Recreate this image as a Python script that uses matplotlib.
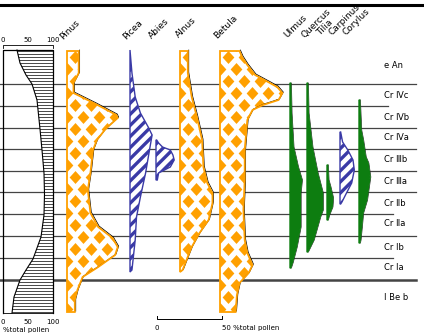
import numpy as np
import matplotlib
matplotlib.use("Agg")
import matplotlib.pyplot as plt
import matplotlib.transforms as mtransforms
from matplotlib.patches import Polygon

# depth values are read in image rows of the reference (0 = top of sheet)
ap_depth = [50, 63, 75, 84, 100, 129, 150, 173, 194, 215, 237, 259, 270, 280, 297, 313]
ap_pct = [28, 34, 46, 58, 68, 74, 78, 82, 83, 82, 76, 60, 46, 34, 22, 18]

pinus_depth = [51, 73, 83, 93, 104, 115, 118, 125, 130, 140, 150, 173, 190, 213, 227, 238, 247, 255, 267, 277, 290, 300, 312]
pinus_pct = [9, 9, 5, 5, 22, 38, 39, 33, 29, 23, 20, 18, 16, 18, 24, 35, 39, 37, 24, 12, 8, 6, 6]

picea_depth = [50, 73, 97, 113, 127, 135, 150, 173, 197, 217, 240, 270, 272]
picea_pct = [0, 1.5, 4, 8, 14, 17, 15, 12, 8, 5, 4, 1.5, 0]

abies_depth = [140, 143, 147, 150, 155, 160, 167, 171, 173, 180]
abies_pct = [0.5, 2, 5, 11, 13, 14, 11, 5, 2, 1]

alnus_depth = [51, 73, 97, 117, 140, 167, 183, 193, 203, 220, 233, 247, 260, 270, 272]
alnus_pct = [6, 6, 9, 13, 17, 18, 21, 25, 25, 22, 15, 9, 5, 2, 0]

betula_depth = [51, 57, 65, 75, 82, 87, 93, 100, 105, 110, 120, 150, 180, 210, 240, 253, 265, 273, 283, 295, 312]
betula_pct = [15, 17, 21, 27, 37, 44, 48, 45, 33, 25, 21, 19, 19, 18, 19, 21, 25, 22, 15, 13, 12]

ulmus_depth = [83, 113, 147, 167, 180, 193, 207, 227, 247, 262, 268]
ulmus_pct = [0.5, 1, 2.5, 6, 9, 8, 8, 8, 5, 2, 0.5]

quercus_depth = [83, 113, 147, 173, 193, 210, 217, 240, 252]
quercus_pct = [0.5, 1, 4, 8, 12, 12, 10, 5, 0.5]

tilia_depth = [165, 180, 187, 198, 207, 215, 220]
tilia_pct = [0.5, 1, 2.5, 4.5, 4, 1.5, 0.5]

carpinus_depth = [132, 142, 150, 160, 170, 183, 193, 202, 204]
carpinus_pct = [0.5, 2, 6, 10, 11, 9, 5, 1.5, 0.5]

corylus_depth = [100, 130, 140, 157, 163, 177, 200, 213, 227, 240, 243]
corylus_pct = [0.5, 1.5, 3, 5, 7, 8.5, 6, 3, 2, 1, 0.5]

zone_bounds = [84, 106, 128, 149, 171, 192, 214, 236, 258, 280]
zone_labels = ["e An", "Cr \u2163c", "Cr \u2163b", "Cr \u2163a", "Cr \u2162b", "Cr \u2162a",
               "Cr \u2161b", "Cr \u2161a", "Cr \u2160b", "Cr \u2160a", "I Be b"]
zone_mid = [66, 96, 117, 138, 160, 182, 203, 224, 247, 268, 297]

ORANGE = "#ffa000"
BLUE = "#3a3aa6"
GREEN = "#0d7d10"
PX = 1.3  # pixels per percent

plt.rcParams["hatch.linewidth"] = 2.4

fig = plt.figure(figsize=(4.24, 3.35), dpi=100)
ax = fig.add_axes([0, 0, 1, 1])
ax.set_xlim(0, 424)
ax.set_ylim(335, 0)
ax.axis("off")

# frame line and zone boundaries
ax.plot([0, 424], [5, 5], color="black", lw=2.2)
short = {106: 388, 214: 393, 258: 393}
for b in zone_bounds:
    ax.plot([0, short.get(b, 416)], [b, b], color="#444444",
            lw=1.8 if b == 280 else 0.9, zorder=1)
for lab, y in zip(zone_labels, zone_mid):
    ax.text(384, y, lab, fontsize=6, va="center", ha="left")


def col_trans(base, scale=PX):
    return mtransforms.Affine2D().scale(scale, 1).translate(base, 0) + ax.transData


def shape(depth, pct):
    xy = [(0, depth[0])] + list(zip(pct, depth)) + [(0, depth[-1])]
    return np.array(xy)


def diamond_fill(depth, pct, base):
    tr = col_trans(base)
    xy = shape(depth, pct)
    bg = Polygon(xy, closed=True, facecolor="white", edgecolor="none", transform=tr, zorder=2)
    ax.add_patch(bg)
    xs, ys = [], []
    for j, yy in enumerate(np.arange(45, 320, 12)):
        off = 8 if j % 2 else 0
        for xx in np.arange(base - 16 + off, base + 80, 16):
            xs.append(xx)
            ys.append(yy)
    pts, = ax.plot(xs, ys, ls="none", marker=[(0, 1.1), (1, 0), (0, -1.1), (-1, 0)],
                   ms=9.3, color=ORANGE, mec="none", zorder=3)
    pts.set_clip_path(bg)
    ax.add_patch(Polygon(xy, closed=True, facecolor="none", edgecolor=ORANGE,
                         lw=1.3, transform=tr, zorder=4))
    sh = mtransforms.offset_copy(tr, fig=fig, x=0.9, y=0.9, units="dots")
    ax.plot(pct, depth, color="black", lw=0.6, transform=sh, zorder=3.5)


def stripe_fill(depth, pct, base):
    tr = col_trans(base)
    xy = shape(depth, pct)
    ax.add_patch(Polygon(xy, closed=True, facecolor="white", edgecolor=BLUE,
                         hatch="///", lw=0, transform=tr, zorder=3))
    ax.add_patch(Polygon(xy, closed=True, facecolor="none", edgecolor=BLUE,
                         lw=1.0, transform=tr, zorder=4))


def green_fill(depth, pct, base):
    tr = col_trans(base)
    xy = shape(depth, pct)
    ax.add_patch(Polygon(xy, closed=True, facecolor=GREEN, edgecolor=GREEN,
                         lw=1.0, transform=tr, zorder=3))
    sh = mtransforms.offset_copy(tr, fig=fig, x=0.8, y=0, units="dots")
    ax.plot(pct, depth, color="#222222", lw=0.5, transform=sh, zorder=2.5)


diamond_fill(pinus_depth, pinus_pct, 67)
stripe_fill(picea_depth, picea_pct, 130)
stripe_fill(abies_depth, abies_pct, 156)
diamond_fill(alnus_depth, alnus_pct, 180)
diamond_fill(betula_depth, betula_pct, 220)
green_fill(ulmus_depth, ulmus_pct, 290)
green_fill(quercus_depth, quercus_pct, 307)
green_fill(tilia_depth, tilia_pct, 327)
stripe_fill(carpinus_depth, carpinus_pct, 340)
green_fill(corylus_depth, corylus_pct, 359)

# taxon names
names = ["Pinus", "Picea", "Abies", "Alnus", "Betula", "Ulmus", "Quercus", "Tilia", "Carpinus", "Corylus"]
name_x = [65, 128, 153, 180, 219, 289, 306, 321, 334, 347]
name_y = [41, 41, 40, 39, 40, 39, 40, 37, 37, 37]
for n, x, y in zip(names, name_x, name_y):
    ax.text(x, y, n, fontsize=6.5, rotation=45, rotation_mode="anchor",
            ha="left", va="bottom")

# left panel: total tree pollen
lt = col_trans(3, 0.5)
ap_xy = list(zip(ap_pct, ap_depth)) + [(100, ap_depth[-1]), (100, ap_depth[0])]
ap_patch = Polygon(ap_xy, closed=True, facecolor="white", edgecolor="none", transform=lt, zorder=2)
ax.add_patch(ap_patch)
hl = ax.hlines(np.arange(51, 313, 3), 0, 60, color="black", lw=0.5, zorder=3)
hl.set_clip_path(ap_patch)
ax.plot(ap_pct, ap_depth, color="black", lw=0.8, transform=lt, zorder=4)
ax.plot([0, 0, 100, 100], [313, 50, 50, 313], color="black", lw=0.9, transform=lt, zorder=4)
ax.plot([0, 100], [313, 313], color="black", lw=0.6, transform=lt, zorder=4)
ax.plot([0, 0, 100, 100], [48, 45, 45, 48], color="black", lw=0.6, transform=lt, zorder=4)
for v in [0, 50, 100]:
    ax.text(v, 43, str(v), fontsize=5, ha="center", va="bottom", transform=lt)
    ax.text(v, 322, str(v), fontsize=5, ha="center", va="center", transform=lt)
ax.text(3, 330, "%total pollen", fontsize=5, ha="left", va="center")

# scale bar
sb = col_trans(157)
ax.plot([0, 0, 50, 50], [316, 319, 319, 316], color="black", lw=0.7, transform=sb)
ax.text(0, 328, "0", fontsize=5, ha="center", va="center", transform=sb)
ax.text(50, 328, "50 %total pollen", fontsize=5, ha="left", va="center", transform=sb)

fig.savefig("out.png", dpi=100)
